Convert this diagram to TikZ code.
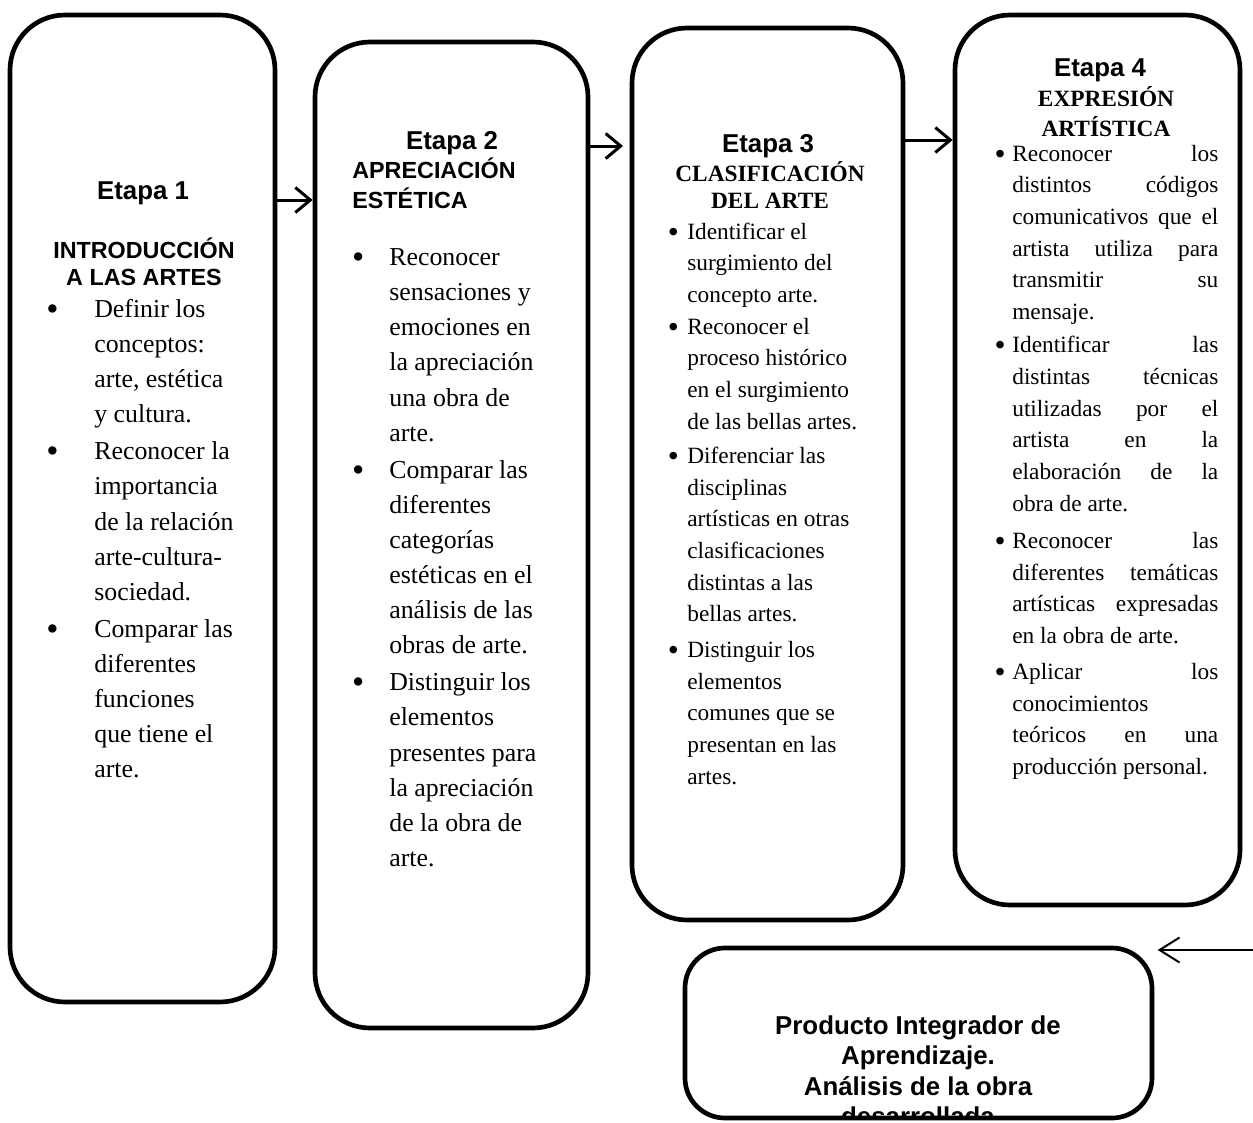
\documentclass[tikz,border=0pt]{standalone}
\usepackage{fontspec}
\usepackage{graphicx}
\setmainfont{Liberation Serif}
\setsansfont{Liberation Sans}
\usetikzlibrary{arrows.meta, fit, positioning}

\newcommand{\bul}[1]{\llap{\raisebox{-0.12em}{\scalebox{1.35}{\textbullet}}\hspace{#1}}}
\newcommand{\jl}[1]{\makebox[123.6pt][s]{#1}}

\begin{document}
\begin{tikzpicture}[
    x=0.6pt, y=-0.6pt,
    stage/.style={draw, line width=2.8pt, rounded corners=33pt, inner sep=0pt},
    final/.style={draw, line width=2.8pt, rounded corners=24pt, inner sep=0pt},
    etapa/.style={font=\sffamily\bfseries\fontsize{15.5}{18}\selectfont, inner sep=0pt, anchor=base},
    headsans/.style={font=\sffamily\bfseries\fontsize{14}{16.2}\selectfont, inner sep=0pt},
    headserif/.style={font=\bfseries\fontsize{14}{16.2}\selectfont, inner sep=0pt, align=center, anchor=north},
    bodybig/.style={font=\fontsize{15.5}{21.1}\selectfont, align=left, inner sep=0pt, anchor=north west},
    bodysmall/.style={font=\fontsize{14}{19}\selectfont, align=left, inner sep=0pt, anchor=north west},
    arr/.style={-{Straight Barb[length=9pt,width=15pt]}, line width=1.8pt},
  ]
    \useasboundingbox (0,0) rectangle (1253,1123);

    % the four stages
    \node[stage, fit={(10,15) (275,1002)}] (b1) {};
    \node[stage, fit={(315,42) (588,1028)}] (b2) {};
    \node[stage, fit={(632,28) (903,920)}] (b3) {};
    \node[stage, fit={(955,15) (1240,905)}] (b4) {};
    \node[final, fit={(685,948) (1152,1118)}] (b5) {};

    % stage 1
    \node[etapa] (e1) at (143,199) {Etapa 1};
    \node[headsans, align=center, anchor=north] (h1) at (144,237) {\strut INTRODUCCIÓN\\A LAS ARTES};
    \node[bodybig] (l1) at (94,292.4) {\strut\bul{21.5pt}Definir los\\conceptos:\\arte, estética\\y cultura.\\[1pt]
      \bul{21.5pt}Reconocer la\\importancia\\de la relación\\arte-cultura-\\sociedad.\\[1pt]
      \bul{21.5pt}Comparar las\\diferentes\\funciones\\que tiene el\\arte.};

    % stage 2
    \node[etapa] (e2) at (452,149) {Etapa 2};
    \node[headsans, align=left, anchor=north west] (h2) at (352,157) {\strut APRECIACIÓN\\ESTÉTICA};
    \node[bodybig] (l2) at (389,240.4) {\strut\bul{15pt}Reconocer\\sensaciones y\\emociones en\\la apreciación\\una obra de\\arte.\\[1pt]
      \bul{15pt}Comparar las\\diferentes\\categorías\\estéticas en el\\análisis de las\\obras de arte.\\[1pt]
      \bul{15pt}Distinguir los\\elementos\\presentes para\\la apreciación\\de la obra de\\arte.};

    % stage 3
    \node[etapa] (e3) at (768,152) {Etapa 3};
    \node[headserif] (h3) at (770,161) {\strut CLASIFICACIÓN\\DEL ARTE};
    \node[bodysmall] (l3) at (687,216.8) {\strut\bul{5pt}Identificar el\\surgimiento del\\concepto arte.\\
      \bul{5pt}Reconocer el\\proceso histórico\\en el surgimiento\\de las bellas artes.\\[1.5pt]
      \bul{5pt}Diferenciar las\\disciplinas\\artísticas en otras\\clasificaciones\\distintas a las\\bellas artes.\\[2.5pt]
      \bul{5pt}Distinguir los\\elementos\\comunes que se\\presentan en las\\artes.};

    % stage 4
    \node[etapa] (e4) at (1100,76) {Etapa 4};
    \node[headserif] (h4) at (1106,86) {\strut EXPRESIÓN\\ARTÍSTICA};
    \node[bodysmall] (l4) at (1012,138.8) {\strut\bul{4pt}\jl{Reconocer los}\\\jl{distintos códigos}\\\jl{comunicativos que el}\\\jl{artista utiliza para}\\\jl{transmitir su}\\mensaje.\\[1pt]
      \bul{4pt}\jl{Identificar las}\\\jl{distintas técnicas}\\\jl{utilizadas por el}\\\jl{artista en la}\\\jl{elaboración de la}\\obra de arte.\\[3.3pt]
      \bul{4pt}\jl{Reconocer las}\\\jl{diferentes temáticas}\\\jl{artísticas expresadas}\\en la obra de arte.\\[2.7pt]
      \bul{4pt}\jl{Aplicar los}\\conocimientos\\\jl{teóricos en una}\\producción personal.};

    % final product, cut by its own frame
    \begin{scope}
      \clip ([yshift=1.4pt]b5.south west) rectangle (b5.north east);
      \node[headsans, font=\sffamily\bfseries\fontsize{15.5}{18.3}\selectfont, align=center, anchor=north] (p5) at (918,1012.6)
        {\strut Producto Integrador de\\Aprendizaje.\\Análisis de la obra\\desarrollada};
    \end{scope}

    % connectors
    \coordinate (src) at (1253,950);
    \draw[arr] (b1.east |- 0,200) -- (b2.west |- 0,200);
    \draw[arr, shorten >=4pt] (b2.east |- 0,146) -- (b3.west |- 0,146);
    \draw[arr] (b3.east |- 0,140) -- (b4.west |- 0,140);
    \draw[-{Straight Barb[length=12pt,width=15pt]}, line width=1.2pt, shorten >=2pt] (src) -- (b5.north east |- src);
\end{tikzpicture}
\end{document}
